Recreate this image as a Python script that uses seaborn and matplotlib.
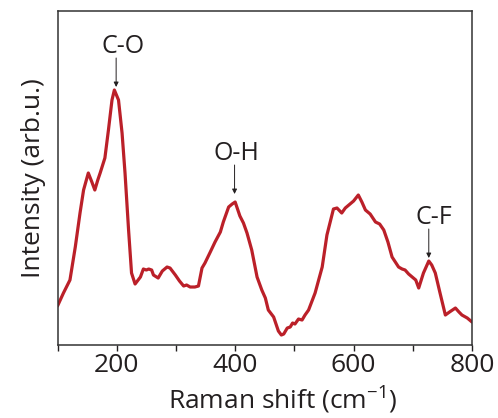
import matplotlib
matplotlib.use("Agg")
import matplotlib.pyplot as plt
import seaborn as sns
import pandas as pd

# Raman spectrum (arbitrary intensity units)
raman_shift = [100, 110, 121, 130, 138, 144, 152, 158, 163, 168, 172, 180, 186,
               192, 196, 203, 209, 214, 220, 225, 231, 240, 245, 250, 254, 259,
               262, 270, 277, 285, 290, 299, 306, 313, 318, 324, 332, 338, 344,
               349, 358, 366, 375, 380, 389, 395, 400, 408, 414, 420, 428, 437,
               445, 451, 456, 465, 473, 478, 482, 488, 493, 497, 501, 507, 513,
               518, 524, 535, 547, 555, 566, 572, 580, 586, 592, 600, 608, 614,
               620, 628, 637, 644, 651, 658, 665, 676, 682, 687, 693, 699, 705,
               710, 718, 727, 732, 738, 746, 755, 762, 772, 778, 783, 792, 800]
intensity = [39, 52, 65, 98, 132, 155, 172, 163, 155, 165, 172, 187, 215,
             245, 255, 245, 212, 172, 115, 72, 61, 68, 76, 75, 76, 75,
             70, 67, 74, 78, 77, 70, 64, 59, 60, 58, 58, 59, 77,
             82, 93, 103, 113, 123, 138, 141, 143, 129, 122, 112, 95, 68,
             55, 47, 35, 28, 14, 10, 11, 17, 18, 22, 21, 26, 25,
             30, 35, 52, 78, 110, 136, 137, 132, 137, 140, 144, 150, 143,
             135, 131, 123, 121, 115, 103, 88, 78, 76, 75, 71, 68, 65,
             57, 72, 84, 80, 72, 52, 30, 33, 37, 33, 30, 27, 23]

peak_labels = ["C-O", "O-H", "C-F"]
peak_positions = [199, 399, 727]
arrow_tip = [258, 151, 87]

spectrum = pd.DataFrame({"shift": raman_shift, "intensity": intensity})

sns.set_style("ticks")
plt.rcParams["font.family"] = ["Open Sans", "DejaVu Sans"]
plt.rcParams["mathtext.fontset"] = "custom"
plt.rcParams["mathtext.rm"] = "Open Sans"
plt.rcParams["mathtext.it"] = "Open Sans"

ink = "#231f20"
fig = plt.figure(figsize=(4.98, 4.18), dpi=100)
ax = fig.add_axes([0.1155, 0.1746, 0.8323, 0.7991])

sns.lineplot(data=spectrum, x="shift", y="intensity", ax=ax,
             color="#bb2029", linewidth=2.3)

# peak annotations with small arrows; labels sit a little right of the arrow
text_shift = {"C-O": 12, "O-H": 4, "C-F": 8}
for name, pos, tip in zip(peak_labels, peak_positions, arrow_tip):
    ax.annotate("", xy=(pos, tip), xytext=(pos, tip + 29),
                arrowprops=dict(arrowstyle="-|>", color=ink, lw=0.7,
                                mutation_scale=7, shrinkA=0, shrinkB=0))
    ax.text(pos + text_shift[name], tip + 34, name, ha="center", va="baseline",
            fontsize=18, color=ink)

ax.set_xlim(100, 800)
ax.set_ylim(0, 334)
ax.set_xticks([100, 200, 300, 400, 500, 600, 700, 800])
ax.set_xticklabels(["", "200", "", "400", "", "600", "", "800"])
ax.set_yticks([])
ax.tick_params(axis="x", direction="out", length=4, width=1, colors=ink,
               labelsize=19, pad=2)
for side in ax.spines.values():
    side.set_linewidth(1.1)
    side.set_color("#333333")

ax.set_xlabel("Raman shift (cm$^{\\mathregular{-1}}$)", fontsize=19, color=ink)
ax.xaxis.set_label_coords(0.544, -0.118)
ax.set_ylabel("Intensity (arb.u.)", fontsize=19, color=ink, labelpad=8)

fig.savefig("out.png", dpi=100)
